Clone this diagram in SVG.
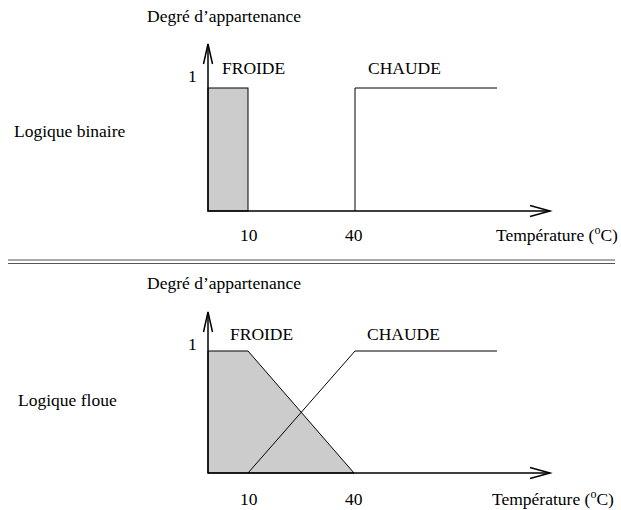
<svg xmlns="http://www.w3.org/2000/svg" width="621" height="510" viewBox="0 0 621 510">
  <style>
    text { font-family: "Liberation Serif", "Times New Roman", serif; font-size: 17.5px; fill: #000; }
    .sup { font-size: 12px; }
    .axis { stroke: #000; stroke-width: 1.5; fill: none; }
    .curve { stroke: #000; stroke-width: 1; fill: none; }
    .area { fill: #cccccc; stroke: #000; stroke-width: 1; }
    .sep { stroke: #555; stroke-width: 1.2; }
  </style>
  <rect width="621" height="510" fill="#fff"/>

  <!-- Top panel: crisp (binary) membership functions -->
  <g id="binary-panel">
    <text x="14" y="137">Logique binaire</text>
    <text x="147" y="22">Degré d’appartenance</text>
    <g id="binary-froide">
      <rect class="area" x="208" y="88" width="40" height="123"/>
      <text x="222" y="74">FROIDE</text>
    </g>
    <g id="binary-chaude">
      <polyline class="curve" points="355,211 355,88 497,88"/>
      <text x="368" y="74">CHAUDE</text>
    </g>
    <g id="binary-axes">
      <polyline class="axis" points="208,44 208,211 550,211"/>
      <polyline class="axis" points="203.5,64 208,44 212.5,64"/>
      <polyline class="axis" points="530,205.5 550,211 530,216.5"/>
      <text x="188" y="82">1</text>
      <text x="240" y="241">10</text>
      <text x="345" y="241">40</text>
      <text x="496" y="241">Température (<tspan class="sup" dy="-7">o</tspan><tspan dy="7">C)</tspan></text>
    </g>
  </g>

  <!-- Separator -->
  <g id="separator">
    <line class="sep" x1="8" y1="260" x2="615" y2="260"/>
    <line class="sep" x1="8" y1="263.5" x2="615" y2="263.5"/>
  </g>

  <!-- Bottom panel: fuzzy membership functions -->
  <g id="fuzzy-panel">
    <text x="18" y="406">Logique floue</text>
    <text x="147" y="289">Degré d’appartenance</text>
    <g id="fuzzy-froide">
      <polygon class="area" points="208,351 248,351 354,473 208,473"/>
      <text x="230" y="340">FROIDE</text>
    </g>
    <g id="fuzzy-chaude">
      <polyline class="curve" points="248,473 355,351 497,351"/>
      <text x="367" y="340">CHAUDE</text>
    </g>
    <g id="fuzzy-axes">
      <polyline class="axis" points="208,312 208,473 550,473"/>
      <polyline class="axis" points="203.5,332 208,312 212.5,332"/>
      <polyline class="axis" points="530,467.5 550,473 530,478.5"/>
      <text x="188" y="350">1</text>
      <text x="240" y="505">10</text>
      <text x="345" y="505">40</text>
      <text x="492" y="505">Température (<tspan class="sup" dy="-7">o</tspan><tspan dy="7">C)</tspan></text>
    </g>
  </g>
</svg>
